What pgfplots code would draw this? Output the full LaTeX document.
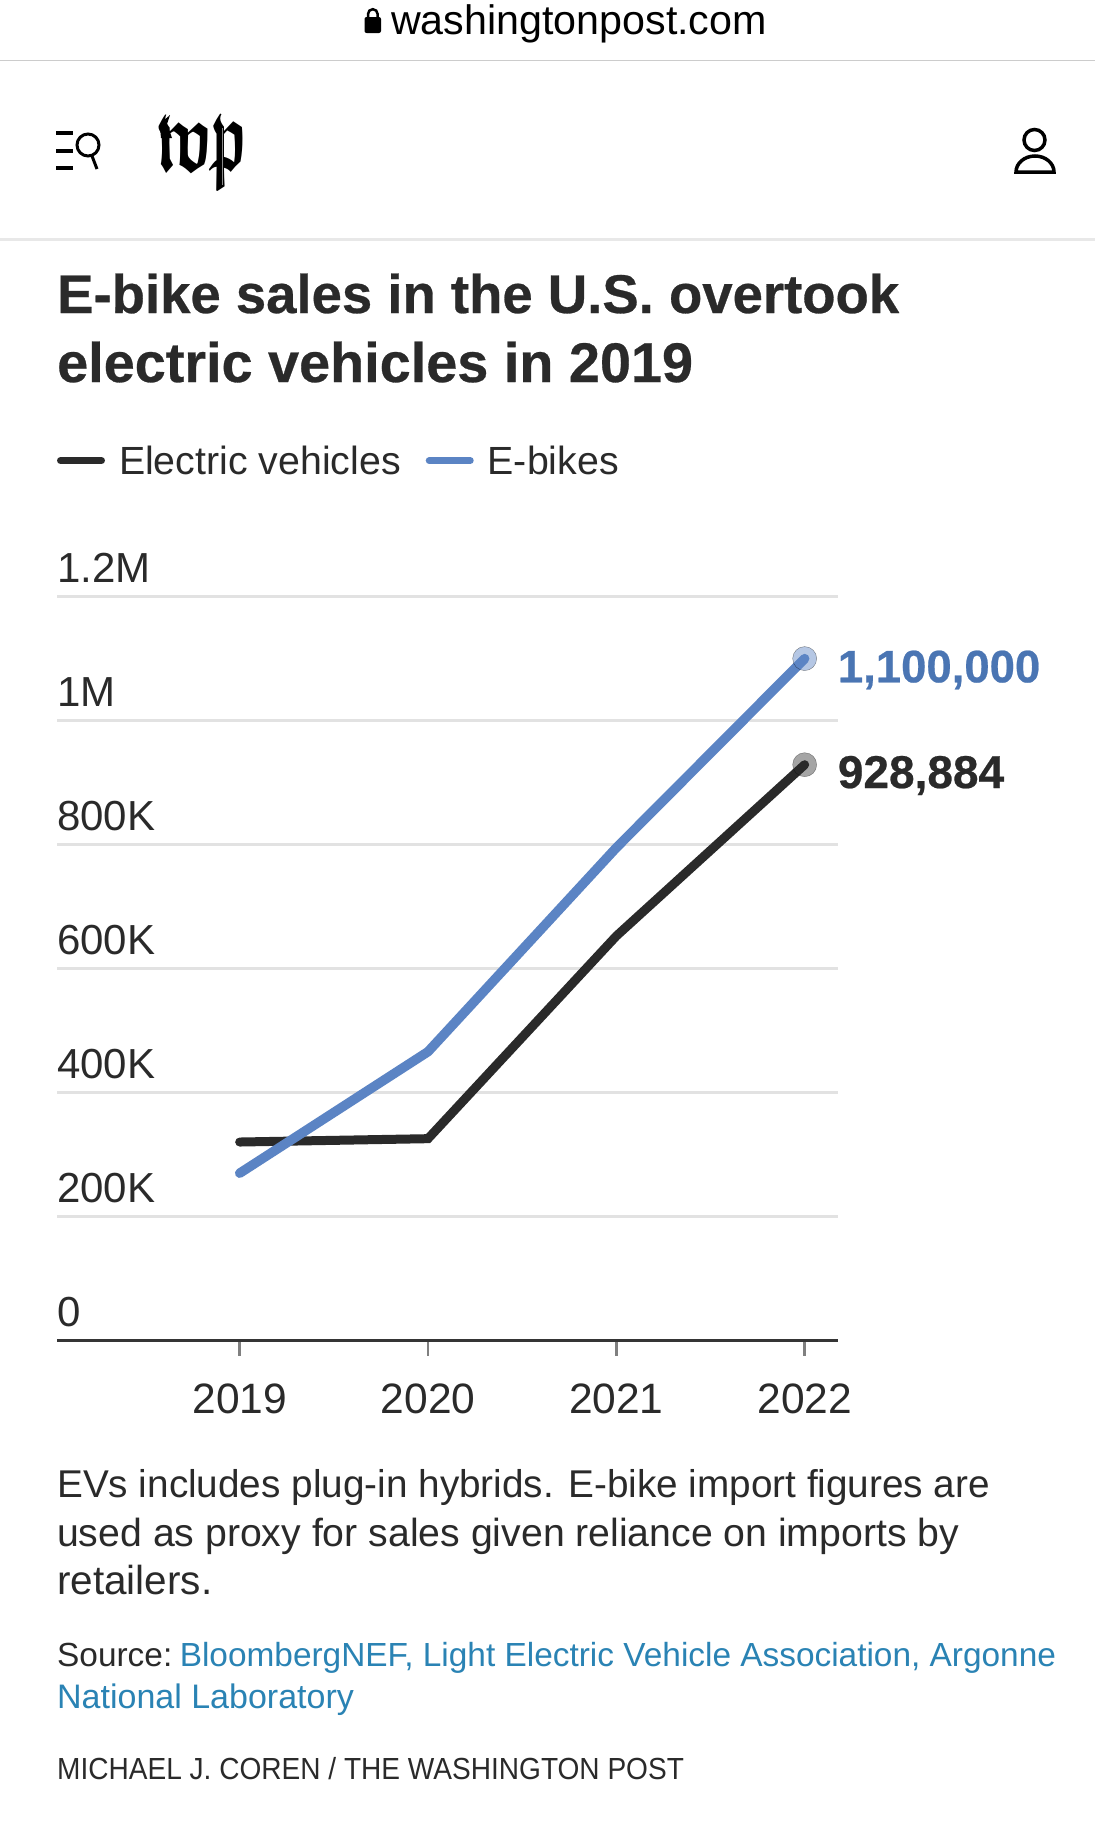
\documentclass[border=0pt]{standalone}
\usepackage{fontspec}
\usepackage{graphicx}
\usepackage{amsfonts}
\usepackage{pgfplots}
\pgfplotsset{compat=1.18}
\setmainfont{Liberation Sans}[BoldFeatures={FakeBold=0.5}]

\definecolor{ink}{HTML}{2A2A2A}
\definecolor{ebike}{HTML}{5B84C4}
\definecolor{ebiketext}{HTML}{4A75B3}
\definecolor{gridc}{HTML}{E2E2E2}
\definecolor{linkc}{HTML}{2A83B4}

% text at pixel position: x, baseline y (down from the top), size, text
\newcommand{\tx}[4]{\node[anchor=base west,inner sep=0pt,text=ink,font=\fontsize{#3}{#3}\selectfont] at (#1pt,-#2pt) {#4};}

\begin{document}
\begin{tikzpicture}
\path[use as bounding box,fill=white] (0,0) rectangle (1095pt,-1847pt);

% browser bar and site header
\fill[black,rounded corners=2pt] (364.5pt,-17pt) rectangle (381pt,-33pt);
\draw[black,line width=2.5pt] (368pt,-18pt) -- (368pt,-14pt) arc (180:0:4.8pt) -- (377.6pt,-18pt);
\node[anchor=base west,inner sep=0pt,text=black,font=\fontsize{41.2}{41.2}\selectfont] at (391pt,-34pt) {washingtonpost.com};
\draw[color=black!20,line width=1.5pt] (0,-60.7pt) -- (1095pt,-60.7pt);
\draw[color=black!9,line width=3pt] (0,-239pt) -- (1095pt,-239pt);

\foreach \yy in {133,151,168} \draw[black,line width=3.5pt] (56pt,-\yy pt) -- (73pt,-\yy pt);
\draw[black,line width=3pt] (88pt,-145pt) circle (11pt);
\draw[black,line width=3pt] (92pt,-156pt) -- (97pt,-169pt);
\node[anchor=base west,inner sep=0pt,text=black,font=\fontsize{92}{92}\usefont{U}{euf}{b}{n}] at (155pt,-170pt) {\scalebox{.7}[1.1]{w\kern-7pt p}};
\fill[black] (160pt,-128pt) -- (163pt,-121pt) -- (170pt,-115pt) -- (167pt,-124pt) -- (172pt,-138pt) -- (161pt,-138pt) -- cycle;
\draw[black!45,line width=1pt] (222pt,-128pt) -- (222pt,-185pt);
\draw[black,line width=3.5pt] (1034.5pt,-140pt) circle (10.5pt);
\draw[black,line width=3.5pt] (1016pt,-172pt) -- (1054pt,-172pt) arc (0:180:19pt and 16pt) -- cycle;

% title
\tx{57}{313}{54.5}{\bfseries E-bike sales in the U.S. overtook}
\tx{57}{382}{55.8}{\bfseries electric vehicles in 2019}

\begin{axis}[
    at={(57pt,-1340.6pt)}, anchor=south west,
    scale only axis,
    width=781pt, height=744pt,
    clip=false,
    xmin=2018.030, xmax=2022.177,
    ymin=0, ymax=1200000,
    axis x line=bottom,
    axis y line=left,
    x axis line style={-,draw=ink!95,line width=3pt},
    y axis line style={draw=none},
    xtick={2019,2020,2021,2022},
    xticklabels={2019,2020,2021,2022},
    ytick={0,200000,400000,600000,800000,1000000,1200000},
    yticklabels={0,200K,400K,600K,800K,1M,1.2M},
    scaled y ticks=false,
    ymajorgrids=true,
    grid style={draw=gridc,line width=3pt},
    major tick length=15pt,
    tick align=outside,
    xtick style={draw=black!50,line width=2.5pt},
    ytick style={draw=none},
    tick label style={font=\fontsize{42}{42}\selectfont,text=ink,inner sep=0pt},
    xticklabel style={anchor=base,yshift=-58pt,font=\fontsize{42.5}{42.5}\selectfont},
    yticklabel style={anchor=base west,xshift=0pt,yshift=14pt},
    yticklabel shift=-15pt,
    legend style={
        at={(0,1)},anchor=south west,xshift=0pt,yshift=119pt,
        draw=none,fill=none,inner sep=0pt,outer sep=0pt,
        font=\fontsize{39.3}{39.3}\selectfont,text=ink,
        legend columns=2,
        /tikz/every even column/.append style={column sep=23pt},
    },
    legend cell align=left,
    legend image code/.code={
        \path[draw=none] (0pt,0pt) -- (60pt,0pt);
        \draw[#1,line width=7pt,line cap=round] (3.5pt,0pt) -- (44.5pt,0pt);
    },
]
\addplot[ink,line width=9pt,line cap=round,line join=miter]
    coordinates {(2019,320300)(2020,325700)(2021,652600)(2022,928884)};
\addlegendentry{Electric vehicles}
\addplot[ebike,line width=9.5pt,line cap=round,line join=miter]
    coordinates {(2019,270000)(2020,466000)(2021,795000)(2022,1100000)};
\addlegendentry{E-bikes}

% halos at the last points
\addplot[forget plot,only marks,mark=*,mark size=12pt,mark options={draw=none,fill=ebike,opacity=.45}]
    coordinates {(2022,1100000)};
\addplot[forget plot,only marks,mark=*,mark size=12pt,mark options={draw=none,fill=ink,opacity=.42}]
    coordinates {(2022,928884)};

\node[anchor=base west,inner sep=0pt,text=ebiketext,font=\fontsize{45.5}{45.5}\selectfont\bfseries,xshift=33pt,yshift=-23.7pt]
    at (axis cs:2022,1100000) {1,100,000};
\node[anchor=base west,inner sep=0pt,text=ink,font=\fontsize{46}{46}\selectfont\bfseries,xshift=33pt,yshift=-23.3pt]
    at (axis cs:2022,928884) {928,884};
\end{axis}

% notes
\tx{57}{1497.6}{38.7}{EVs includes plug-in hybrids. E-bike import figures are}
\tx{57}{1546}{39.2}{used as proxy for sales given reliance on imports by}
\tx{57}{1594}{40.5}{retailers.}
\tx{57}{1666}{33.4}{Source:\hspace{7.5pt}\textcolor{linkc}{BloombergNEF, Light Electric Vehicle Association, Argonne}}
\tx{57}{1708}{34}{\textcolor{linkc}{National Laboratory}}
\tx{57}{1779}{30.5}{\scalebox{.92}[1]{MICHAEL J. COREN / THE WASHINGTON POST}}
\end{tikzpicture}
\end{document}
